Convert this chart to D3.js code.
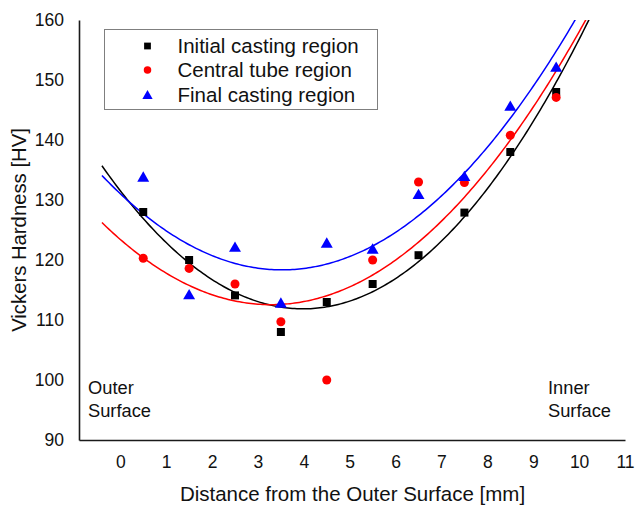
<!DOCTYPE html>
<html>
<head>
<meta charset="utf-8">
<script src="https://cdn.jsdelivr.net/npm/d3@7"></script>
<style>
  html, body { margin: 0; padding: 0; background: #fff; }
  svg { display: block; font-family: "Liberation Sans", Arial, sans-serif; }
</style>
</head>
<body>
<svg id="chart" width="635" height="506"></svg>
<script>
// ---- data ----
const positions = [0.5, 1.5, 2.5, 3.5, 4.5, 5.5, 6.5, 7.5, 8.5, 9.5];
const initialCasting = [128, 120, 114.1, 108, 113, 116, 120.8, 127.9, 138, 148];
const centralTube    = [120.3, 118.6, 116, 109.7, 100, 120, 133, 132.9, 140.8, 147.1];
const finalCasting   = [133.8, 114.2, 122.1, 112.8, 122.8, 121.8, 130.9, 133.9, 145.6, 152.1];
const seriesNames = ["Initial casting region", "Central tube region", "Final casting region"];
const xTicks = [0, 1, 2, 3, 4, 5, 6, 7, 8, 9, 10, 11];
const yTicks = [90, 100, 110, 120, 130, 140, 150, 160];

const series = [
  { name: seriesNames[0], values: initialCasting, color: "#000000", kind: "square" },
  { name: seriesNames[1], values: centralTube,    color: "#ff0000", kind: "circle" },
  { name: seriesNames[2], values: finalCasting,   color: "#0000ff", kind: "triangle" }
];
const symType = { square: d3.symbolSquare, circle: d3.symbolCircle, triangle: d3.symbolTriangle };

// ---- layout ----
const svg = d3.select("#chart");
const pLeft = 79, pRight = 625, pTop = 20, pBottom = 440;
const x = d3.scaleLinear().domain([-0.9, 11]).range([pLeft, pRight]);
const y = d3.scaleLinear().domain([90, 160]).range([pBottom, pTop]);

// quadratic least-squares trendline
function quadFit(xs, ys) {
  const n = xs.length;
  const s = [0,0,0,0,0], t = [0,0,0];
  for (let i = 0; i < n; i++) {
    const xi = xs[i], yi = ys[i];
    for (let k = 0; k < 5; k++) s[k] += Math.pow(xi, k);
    for (let k = 0; k < 3; k++) t[k] += yi * Math.pow(xi, k);
  }
  const A = [[s[0], s[1], s[2], t[0]], [s[1], s[2], s[3], t[1]], [s[2], s[3], s[4], t[2]]];
  for (let i = 0; i < 3; i++) {
    for (let j = i + 1; j < 3; j++) {
      const f = A[j][i] / A[i][i];
      for (let k = i; k < 4; k++) A[j][k] -= f * A[i][k];
    }
  }
  const c = [0,0,0];
  for (let i = 2; i >= 0; i--) {
    let v = A[i][3];
    for (let k = i + 1; k < 3; k++) v -= A[i][k] * c[k];
    c[i] = v / A[i][i];
  }
  return xv => c[0] + c[1] * xv + c[2] * xv * xv;
}

svg.append("defs").append("clipPath").attr("id", "plotclip")
  .append("rect").attr("x", pLeft).attr("y", pTop).attr("width", pRight - pLeft).attr("height", pBottom - pTop);

// trendlines
const xs = d3.range(-0.4, 11.001, 0.05);
const line = d3.line().x(d => x(d[0])).y(d => y(d[1]));
series.forEach(s => {
  const f = quadFit(positions, s.values);
  svg.append("path")
    .attr("clip-path", "url(#plotclip)")
    .attr("d", line(xs.map(v => [v, f(v)])))
    .attr("fill", "none")
    .attr("stroke", s.color)
    .attr("stroke-width", 1.5);
});

// markers
series.forEach(s => {
  const sz = s.kind === "square" ? 64 : (s.kind === "circle" ? 64 : 62);
  const dy = s.kind === "triangle" ? 1 : 0;
  svg.append("g").selectAll("path").data(positions).join("path")
    .attr("transform", (d, i) => `translate(${x(d)},${y(s.values[i]) + dy})`)
    .attr("d", d3.symbol().type(symType[s.kind]).size(sz))
    .attr("fill", s.color);
});

// axes
const yAxis = svg.append("g").attr("transform", `translate(${pLeft},0)`)
  .call(d3.axisLeft(y).tickValues(yTicks).tickSize(0).tickPadding(15));
const xAxis = svg.append("g").attr("transform", `translate(0,${pBottom})`)
  .call(d3.axisBottom(x).tickValues(xTicks).tickSize(0).tickPadding(16));
[yAxis, xAxis].forEach(a => {
  a.select(".domain").attr("stroke", "#1a1a1a").attr("stroke-width", 1.6);
  a.selectAll("text").attr("font-size", 17.5).attr("fill", "#111")
    .attr("font-family", "'Liberation Sans', Arial, sans-serif");
});

// axis titles
svg.append("text")
  .attr("transform", "translate(26,230) rotate(-90)")
  .attr("text-anchor", "middle")
  .attr("font-size", 20.3).attr("fill", "#111")
  .text("Vickers Hardness [HV]");
svg.append("text")
  .attr("x", 352.5).attr("y", 501)
  .attr("text-anchor", "middle")
  .attr("font-size", 20.5).attr("fill", "#111")
  .text("Distance from the Outer Surface [mm]");

// annotations
const outer = svg.append("text").attr("font-size", 18.3).attr("fill", "#111");
outer.append("tspan").attr("x", 88).attr("y", 394).text("Outer");
outer.append("tspan").attr("x", 88).attr("y", 416.5).text("Surface");
const inner = svg.append("text").attr("font-size", 18.3).attr("fill", "#111");
inner.append("tspan").attr("x", 548).attr("y", 394).text("Inner");
inner.append("tspan").attr("x", 548).attr("y", 416.5).text("Surface");

// legend
const lg = svg.append("g");
lg.append("rect").attr("x", 104.5).attr("y", 29.5).attr("width", 273).attr("height", 80)
  .attr("fill", "#fff").attr("stroke", "#7f7f7f").attr("stroke-width", 1);
const rowsY = [46, 70, 95];
series.forEach((s, i) => {
  const sz = s.kind === "square" ? 46 : (s.kind === "circle" ? 44 : 46);
  lg.append("path")
    .attr("transform", `translate(147.5,${rowsY[i] + (s.kind === "triangle" ? 1 : 0)})`)
    .attr("d", d3.symbol().type(symType[s.kind]).size(sz))
    .attr("fill", s.color);
  lg.append("text").attr("x", 177.5).attr("y", rowsY[i] + 7)
    .attr("font-size", 20.5).attr("fill", "#111").text(s.name);
});
</script>
</body>
</html>
